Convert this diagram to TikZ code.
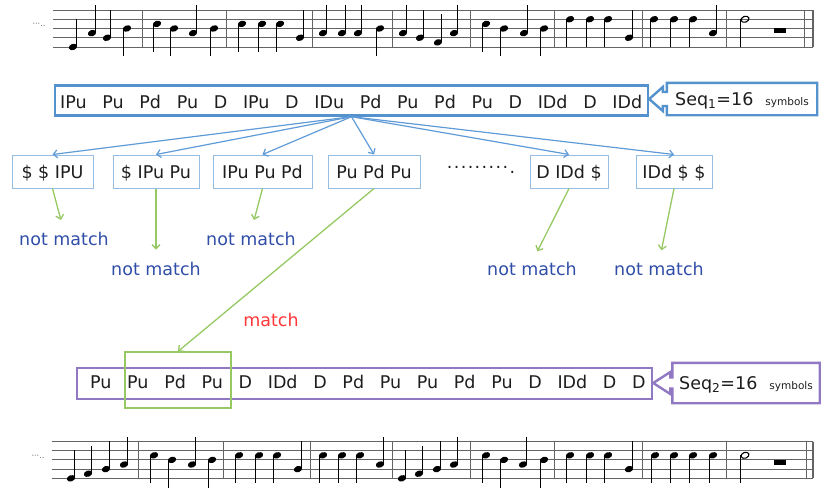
\documentclass[tikz,border=0pt]{standalone}
\usepackage{fontspec}
\setmainfont{DejaVu Sans}
\usetikzlibrary{arrows.meta}
\definecolor{seqblue}{RGB}{84,146,206}
\definecolor{boxblue}{RGB}{150,190,228}
\definecolor{arrblue}{RGB}{95,155,215}
\definecolor{arrgreen}{RGB}{150,200,100}
\definecolor{nmblue}{RGB}{48,78,168}
\definecolor{mred}{RGB}{255,55,55}
\definecolor{seqpurple}{RGB}{145,120,195}
\definecolor{staffgray}{RGB}{100,100,100}
\definecolor{txt}{RGB}{30,30,30}
\newcommand{\qnote}[4]{%
  \pgfmathsetmacro{\qy}{#2-#3*#4}%
  \fill[rotate around={20:(#1,\qy)}] (#1,\qy) ellipse (4.3 and 3.1);%
  \ifnum#3<4\relax
    \draw[stemline] ({#1+3.9},\qy) -- ++(0,-28);%
  \else
    \draw[stemline] ({#1-3.9},\qy) -- ++(0,28);%
  \fi}
\newcommand{\gp}{\hspace{15.7pt}}
\tikzset{
  tok/.style={font=\fontsize{17.5}{20}\selectfont, text=txt, inner sep=0pt, text height=13pt, text depth=0pt},
  seqbox/.style={draw, line width=2.4pt, inner sep=0pt},
  sbox/.style={draw=boxblue, line width=1pt, minimum height=33pt, inner sep=0pt, text=txt,
    font=\fontsize{17.5}{20}\selectfont, text height=13pt, text depth=0pt},
  nm/.style={text=nmblue, font=\fontsize{17.5}{20}\selectfont, inner sep=0pt, text height=13.3pt, text depth=0pt},
  seqlab/.style={inner sep=0pt, text=txt, font=\fontsize{17.5}{20}\selectfont, text height=13pt, text depth=0pt},
  barrow/.style={draw=arrblue, line width=1.2pt, -{Straight Barb[length=4pt,width=8pt]}},
  garrow/.style={draw=arrgreen, line width=1.3pt, -{Straight Barb[length=4pt,width=8pt]}},
  staffline/.style={draw=staffgray, line width=0.9pt},
  stemline/.style={draw=black, line width=0.9pt},
  callout/.style={line width=2.4pt, line join=miter},
}
\begin{document}
\begin{tikzpicture}[x=1pt,y=-1pt]
\useasboundingbox (0,0) rectangle (821,487);
% ---------- top staff ----------
\foreach \i in {0,...,4} \draw[staffline] (53,{47-\i*9.25}) -- (813,{47-\i*9.25});
\foreach \b in {142,226,312,392,470,554,642,726,804} \draw[staffline] (\b,10) -- (\b,47);
\draw[line width=1.6pt, draw=staffgray] (813,10) -- (813,47);
\node[inner sep=0pt, font=\fontsize{8}{9}\selectfont, text=staffgray] (dotsA) at (39,25) {···..};
\foreach \x/\s in {73/0,92/3,107/2,127/4, 157/5,174/4,193/3,214/4, 242/5,262/5,280/5,300/2,
  323/3,342/3,358/3,380/4, 403/3,420/2,438/1,454/3, 486/5,504/4,524/3,544/4,
  570/6,590/6,608/6,629/2, 654/6,674/6,693/6,713/3}
  {\qnote{\x}{47}{\s}{4.625}}
\draw[line width=1.1pt, rotate around={20:(745,19.25)}] (745,19.25) ellipse (4.1 and 2.9);
\draw[stemline] (740.9,19.25) -- ++(0,28);
\fill (774,28.5) rectangle (786,33);
% ---------- bottom staff ----------
\foreach \i in {0,...,4} \draw[staffline] (52,{478.3-\i*9.2}) -- (813,{478.3-\i*9.2});
\foreach \b in {138,223,310,392,470,554,642,726,806} \draw[staffline] (\b,441.5) -- (\b,478.3);
\draw[line width=1.6pt, draw=staffgray] (813,441.5) -- (813,478.3);
\node[inner sep=0pt, font=\fontsize{8}{9}\selectfont, text=staffgray] (dotsB) at (38,457) {···..};
\foreach \x/\s in {71/0,88/1,106/2,124/3, 154/5,172/4,192/3,212/4, 239/5,259/5,277/5,298/2,
  323/5,342/5,360/5,380/3, 402/0,419/1,437/2,454/3, 486/5,504/4,523/3,544/4,
  570/5,590/5,608/5,629/2, 655/5,674/5,693/5,713/5}
  {\qnote{\x}{478.3}{\s}{4.6}}
\draw[line width=1.1pt, rotate around={20:(745,455.3)}] (745,455.3) ellipse (4.1 and 2.9);
\draw[stemline] (740.9,455.3) -- ++(0,28);
\fill (774,460) rectangle (786,464.5);
% ---------- sequence 1 ----------
\node[seqbox, draw=seqblue, minimum width=593pt, minimum height=30pt] (seq1) at (351.5,100.5) {};
\node[tok, anchor=west] (seq1text) at (60,101.5)
  {IPu\gp Pu\gp Pd\gp Pu\gp D\gp IPu\gp D\gp IDu\gp Pd\gp Pu\gp Pd\gp Pu\gp D\gp IDd\gp D\gp IDd};
\node[seqlab, minimum width=150pt, minimum height=32pt] (s1) at (742,99)
  {Seq\textsubscript{1}=16\hspace{12pt}{\fontsize{10.5}{12}\selectfont symbols}};
\draw[callout, draw=seqblue] (s1.north west) -- (s1.north east) -- (s1.south east) -- (s1.south west)
  -- ([yshift=-7pt]s1.west) -- ([xshift=-4pt,yshift=-7pt]s1.west) -- ([xshift=-4pt,yshift=-12pt]s1.west)
  -- (seq1.east |- s1.west) -- ([xshift=-4pt,yshift=12pt]s1.west) -- ([xshift=-4pt,yshift=7pt]s1.west)
  -- ([yshift=7pt]s1.west) -- cycle;
% ---------- windows ----------
\node[sbox, minimum width=81pt] (b1) at (52.5,171.5) {\$ \$ IPU};
\node[sbox, minimum width=86pt] (b2) at (156,171.5) {\$ IPu Pu};
\node[sbox, minimum width=99pt] (b3) at (262.5,171.5) {IPu Pu Pd};
\node[sbox, minimum width=92pt] (b4) at (374,171.5) {Pu Pd Pu};
\node[tok] (dots) at (481,166.5) {·\kern1.4pt·\kern1.4pt·\kern1.4pt·\kern1.4pt·\kern1.4pt·\kern1.4pt·\kern1.4pt·\kern1.4pt·\kern1.4pt.};
\node[sbox, minimum width=78pt] (b5) at (569,171.5) {D IDd \$};
\node[sbox, minimum width=76pt] (b6) at (674,171.5) {IDd \$ \$};
\foreach \b in {b1,b2,b3,b4,b5,b6} \draw[barrow] (seq1.south) -- (\b.north);
% ---------- results ----------
\node[nm] (n1) at (64,238.4) {not match};
\node[nm] (n2) at (156,268.4) {not match};
\node[nm] (n3) at (251,238.4) {not match};
\node[nm] (n4) at (532,268.9) {not match};
\node[nm] (n5) at (659,268.9) {not match};
\node[nm, text=mred] (m) at (271,320) {match};
\draw[garrow, shorten >=12pt] (b1.south) -- (n1.north);
\draw[garrow, shorten >=12pt] (b2.south) -- (n2.north);
\draw[garrow, shorten >=12pt] (b3.south) -- (n3.north);
\draw[garrow, shorten >=12pt] (b5.south) -- (n4.north);
\draw[garrow, shorten >=12pt] (b6.south) -- (n5.north);
% ---------- sequence 2 ----------
\node[seqbox, draw=seqpurple, minimum width=575pt, minimum height=31pt] (seq2) at (364.5,383.5) {};
\node[tok, anchor=west] (seq2text) at (90,381.5)
  {Pu\gp Pu\gp Pd\gp Pu\gp D\gp IDd\gp D\gp Pd\gp Pu\gp Pu\gp Pd\gp Pu\gp D\gp IDd\gp D\gp D};
\node[draw=arrgreen, line width=1.2pt, minimum width=106pt, minimum height=56pt, inner sep=0pt] (mrect) at (178,380) {};
\draw[garrow] (b4.south) -- (mrect.north);
\node[seqlab, minimum width=147pt, minimum height=40pt] (s2) at (746,383)
  {Seq\textsubscript{2}=16\hspace{12pt}{\fontsize{10.5}{12}\selectfont symbols}};
\draw[callout, draw=seqpurple] (s2.north west) -- (s2.north east) -- (s2.south east) -- (s2.south west)
  -- ([yshift=-5.5pt]s2.west) -- ([xshift=-2pt,yshift=-5.5pt]s2.west) -- ([xshift=-2pt,yshift=-11pt]s2.west)
  -- (seq2.east |- s2.west) -- ([xshift=-2pt,yshift=11pt]s2.west) -- ([xshift=-2pt,yshift=5.5pt]s2.west)
  -- ([yshift=5.5pt]s2.west) -- cycle;
\end{tikzpicture}
\end{document}
